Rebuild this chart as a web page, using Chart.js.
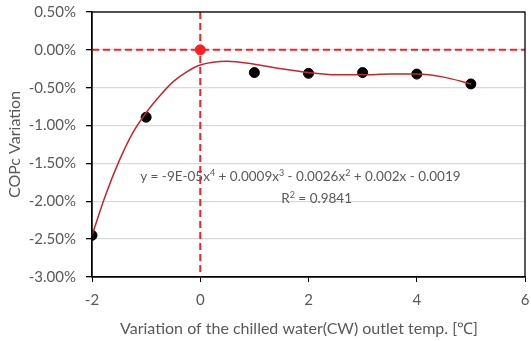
<!DOCTYPE html>
<html>
<head>
<meta charset="utf-8">
<script src="https://cdn.jsdelivr.net/npm/chart.js@4"></script>
<style>
  html, body { margin: 0; padding: 0; background: #fff; }
  #wrap { width: 531px; height: 341px; }
</style>
</head>
<body>
<div id="wrap"><canvas id="cop-chart" width="531" height="341"></canvas></div>
<script>
// measured points: CW outlet temp variation (°C) vs COPc variation (%)
const tempVariation = [-2, -1, 1, 2, 3, 4, 5];
const copVariation = [-2.45, -0.89, -0.30, -0.31, -0.30, -0.32, -0.45];

// reference (design) point
const refPoint = [{ x: 0, y: 0 }];

// polynomial trendline
const trendX = [-2, -1.75, -1.5, -1.25, -1, -0.75, -0.5, -0.25, 0, 0.5, 1, 1.5, 2, 2.5, 3, 3.5, 4, 4.5, 5];
const trendY = [-2.45, -1.92, -1.47, -1.10, -0.83, -0.61, -0.42, -0.29, -0.20, -0.15, -0.19, -0.25, -0.30, -0.33, -0.33, -0.32, -0.32, -0.36, -0.45];

// dashed red guide lines at x = 0 and y = 0
const hGuide = [{ x: -2, y: 0 }, { x: 6, y: 0 }];
const vGuide = [{ x: 0, y: 0.5 }, { x: 0, y: -3 }];

const xTicks = [-2, 0, 2, 4, 6];
const yTicks = [0.5, 0, -0.5, -1, -1.5, -2, -2.5, -3];

const eqParts = [
    ['y = -9E-05x', 0], ['4', 1], [' + 0.0009x', 0], ['3', 1],
    [' - 0.0026x', 0], ['2', 1], [' + 0.002x - 0.0019', 0]
];
const r2Parts = [['R', 0], ['2', 1], [' = 0.9841', 0]];

const FONT = 'Lato, "Liberation Sans", sans-serif';
const GREY = '#595959';

function toPoints(xs, ys) {
    return xs.map((x, i) => ({ x: x, y: ys[i] }));
}

function drawParts(ctx, parts, cx, cy, size) {
    const big = size + 'px ' + FONT;
    const small = Math.round(size * 0.65) + 'px ' + FONT;
    let total = 0;
    parts.forEach(p => {
        ctx.font = p[1] ? small : big;
        total += ctx.measureText(p[0]).width;
    });
    let x = cx - total / 2;
    parts.forEach(p => {
        ctx.font = p[1] ? small : big;
        ctx.fillText(p[0], x, p[1] ? cy - size * 0.38 : cy);
        x += ctx.measureText(p[0]).width;
    });
}

// frame around the plot, equation text, x title
const decorPlugin = {
    id: 'decor',
    afterDraw(chart) {
        const ctx = chart.ctx;
        const a = chart.chartArea;
        const xs = chart.scales.x;
        const ys = chart.scales.y;
        ctx.save();
        ctx.strokeStyle = '#000';
        ctx.lineWidth = 1.3;
        ctx.strokeRect(a.left, a.top, a.right - a.left, a.bottom - a.top);

        ctx.fillStyle = GREY;
        ctx.textBaseline = 'alphabetic';
        ctx.textAlign = 'left';
        drawParts(ctx, eqParts, xs.getPixelForValue(1.85), ys.getPixelForValue(-1.73), 13.5);
        drawParts(ctx, r2Parts, xs.getPixelForValue(2.15), ys.getPixelForValue(-2.02), 13.5);

        ctx.font = '16px ' + FONT;
        ctx.textAlign = 'center';
        ctx.fillText('Variation of the chilled water(CW) outlet temp. [\u2103]', 299, 334);
        ctx.restore();
    }
};

const ctx = document.getElementById('cop-chart').getContext('2d');

new Chart(ctx, {
    type: 'scatter',
    data: {
        datasets: [
            {
                label: 'ref',
                data: refPoint,
                backgroundColor: '#ff1f1f',
                borderColor: '#ff1f1f',
                pointRadius: 5,
                order: 0
            },
            {
                label: 'COPc',
                data: toPoints(tempVariation, copVariation),
                backgroundColor: '#000',
                borderColor: '#000',
                pointRadius: 5,
                order: 2
            },
            {
                label: 'trend',
                data: toPoints(trendX, trendY),
                showLine: true,
                borderColor: '#c0282d',
                borderWidth: 1.5,
                pointRadius: 0,
                cubicInterpolationMode: 'monotone',
                order: 1
            },
            {
                label: 'h0',
                data: hGuide,
                showLine: true,
                borderColor: '#ff1f1f',
                borderWidth: 2,
                borderDash: [7, 4],
                pointRadius: 0,
                order: 3
            },
            {
                label: 'v0',
                data: vGuide,
                showLine: true,
                borderColor: '#ff1f1f',
                borderWidth: 2,
                borderDash: [7, 4],
                pointRadius: 0,
                order: 3
            }
        ]
    },
    options: {
        responsive: false,
        animation: false,
        layout: {
            padding: { top: 12, right: 4, left: 0, bottom: 0 }
        },
        plugins: {
            legend: { display: false },
            tooltip: { enabled: false }
        },
        scales: {
            x: {
                type: 'linear',
                min: -2,
                max: 6,
                afterBuildTicks: s => { s.ticks = xTicks.map(v => ({ value: v })); },
                grid: {
                    drawOnChartArea: false,
                    tickColor: '#000',
                    tickLength: 5
                },
                border: { color: '#000', width: 1.3 },
                ticks: {
                    color: GREY,
                    font: { family: FONT, size: 15 },
                    padding: 9,
                    maxRotation: 0
                },
                afterFit: s => {
                    s.height = 64;
                    s.paddingLeft = 0;
                    s.paddingRight = 0;
                }
            },
            y: {
                min: -3,
                max: 0.5,
                afterBuildTicks: s => { s.ticks = yTicks.map(v => ({ value: v })); },
                grid: {
                    color: '#d9d9d9',
                    lineWidth: 1.3,
                    tickColor: '#000',
                    tickLength: 6
                },
                border: { color: '#000', width: 1.3 },
                ticks: {
                    color: GREY,
                    font: { family: FONT, size: 15 },
                    padding: 10,
                    callback: v => v.toFixed(2) + '%'
                },
                title: {
                    display: true,
                    text: 'COPc Variation',
                    color: GREY,
                    font: { family: FONT, size: 16 },
                    padding: { top: 5, bottom: 0 }
                },
                afterFit: s => {
                    s.width = 92;
                    s.paddingTop = 0;
                    s.paddingBottom = 0;
                }
            }
        }
    },
    plugins: [decorPlugin]
});
</script>
</body>
</html>
